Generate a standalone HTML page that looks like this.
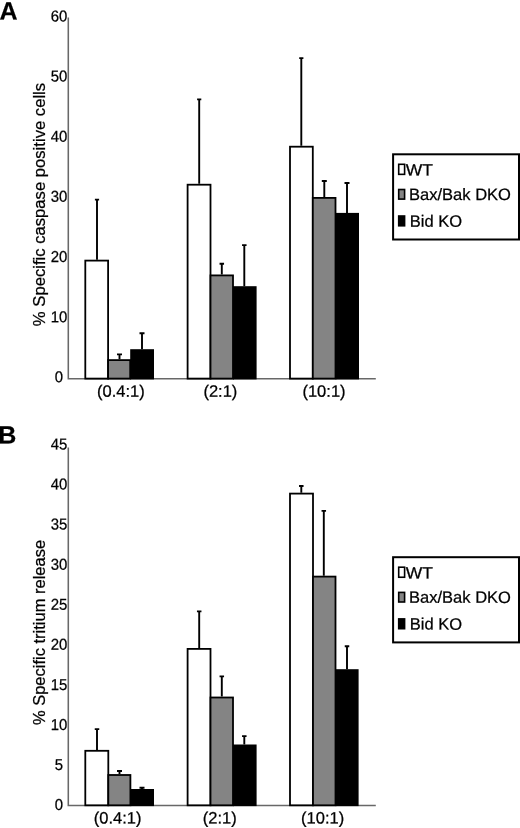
<!DOCTYPE html>
<html lang="en"><head><meta charset="utf-8"><title>Figure</title>
<style>html,body{margin:0;padding:0;background:#fff;overflow:hidden}svg{display:block;filter:grayscale(1)}text{font-family:"Liberation Sans", Arial, Helvetica, sans-serif;fill:#000;stroke:#000;stroke-width:0.25px}</style>
</head><body>
<svg width="520" height="828" viewBox="0 0 520 828">
<rect width="520" height="828" fill="#fff"/>
<text transform="translate(-0.5 19.4) rotate(0.05)" font-size="25" font-weight="bold" stroke="#000" stroke-width="0.5">A</text>
<path d="M68.3 17.5 V378.8 H375.8" fill="none" stroke="#686868" stroke-width="1.55"/>
<text transform="translate(54.85 382.3) rotate(0.05)" font-size="15.8" textLength="8.3" lengthAdjust="spacingAndGlyphs">0</text>
<text transform="translate(50.7 322.15) rotate(0.05)" font-size="15.8" textLength="16.6" lengthAdjust="spacingAndGlyphs">10</text>
<text transform="translate(50.7 262) rotate(0.05)" font-size="15.8" textLength="16.6" lengthAdjust="spacingAndGlyphs">20</text>
<text transform="translate(50.7 201.85) rotate(0.05)" font-size="15.8" textLength="16.6" lengthAdjust="spacingAndGlyphs">30</text>
<text transform="translate(50.7 141.7) rotate(0.05)" font-size="15.8" textLength="16.6" lengthAdjust="spacingAndGlyphs">40</text>
<text transform="translate(50.7 81.55) rotate(0.05)" font-size="15.8" textLength="16.6" lengthAdjust="spacingAndGlyphs">50</text>
<text transform="translate(50.7 21.4) rotate(0.05)" font-size="15.8" textLength="16.6" lengthAdjust="spacingAndGlyphs">60</text>
<text transform="translate(45.1 204.5) rotate(-90)" font-size="16.65" text-anchor="middle">% Specific caspase positive cells</text>
<path d="M97 259.7 V199 M94.9 199.6 H99.1" fill="none" stroke="#000" stroke-width="1.9"/>
<rect x="85.3" y="260.6" width="22.8" height="118" fill="#fff" stroke="#000" stroke-width="1.8"/>
<path d="M119.5 359.2 V353.8 M117 354.4 H122" fill="none" stroke="#000" stroke-width="1.9"/>
<rect x="108.1" y="360.1" width="22.1" height="18.5" fill="#848484" stroke="#000" stroke-width="1.8"/>
<path d="M142 349.2 V332.6 M139.5 333.2 H144.5" fill="none" stroke="#000" stroke-width="1.9"/>
<rect x="130.2" y="349.2" width="23.8" height="30.2" fill="#000"/>
<path d="M199.2 183.8 V98.8 M197.1 99.4 H201.3" fill="none" stroke="#000" stroke-width="1.9"/>
<rect x="187.6" y="184.7" width="22.9" height="193.9" fill="#fff" stroke="#000" stroke-width="1.8"/>
<path d="M221.8 274.5 V263.2 M219.55 263.8 H224.05" fill="none" stroke="#000" stroke-width="1.9"/>
<rect x="210.5" y="275.4" width="22.5" height="103.2" fill="#848484" stroke="#000" stroke-width="1.8"/>
<path d="M244.3 286.2 V244.5 M242.05 245.1 H246.55" fill="none" stroke="#000" stroke-width="1.9"/>
<rect x="233" y="286.2" width="23.6" height="93.2" fill="#000"/>
<path d="M301.3 145.8 V57.5 M299.2 58.1 H303.4" fill="none" stroke="#000" stroke-width="1.9"/>
<rect x="290" y="146.7" width="22.8" height="231.9" fill="#fff" stroke="#000" stroke-width="1.8"/>
<path d="M324.3 197 V180.4 M321.8 181 H326.8" fill="none" stroke="#000" stroke-width="1.9"/>
<rect x="312.8" y="197.9" width="22.7" height="180.7" fill="#848484" stroke="#000" stroke-width="1.8"/>
<path d="M347 212.9 V182.4 M344.5 183 H349.5" fill="none" stroke="#000" stroke-width="1.9"/>
<rect x="335.5" y="212.9" width="23.5" height="166.5" fill="#000"/>
<text transform="translate(120.8 396.8) rotate(0.05)" font-size="16.5" text-anchor="middle">(0.4:1)</text>
<text transform="translate(220.4 396.8) rotate(0.05)" font-size="16.5" text-anchor="middle">(2:1)</text>
<text transform="translate(324 396.8) rotate(0.05)" font-size="16.5" text-anchor="middle">(10:1)</text>
<rect x="393.1" y="154.3" width="125.9" height="85.2" fill="#fff" stroke="#000" stroke-width="2"/>
<rect x="398.7" y="164.3" width="5.9" height="10.05" fill="#fff" stroke="#000" stroke-width="1.6"/>
<text transform="translate(405.7 175.5) rotate(0.05)" font-size="16.5" textLength="27.2" lengthAdjust="spacingAndGlyphs">WT</text>
<rect x="398.7" y="189.5" width="5.9" height="9.6" fill="#848484" stroke="#000" stroke-width="1.6"/>
<text transform="translate(409.1 199.9) rotate(0.05)" font-size="16.5">Bax/Bak DKO</text>
<rect x="398.7" y="216" width="5.9" height="9.8" fill="#000" stroke="#000" stroke-width="1.6"/>
<text transform="translate(409.8 226.7) rotate(0.05)" font-size="16.5">Bid KO</text>
<text transform="translate(-1.8 443.5) rotate(0.05)" font-size="25" font-weight="bold" stroke="#000" stroke-width="0.5">B</text>
<path d="M68.3 447.5 V805.5 H375.8" fill="none" stroke="#686868" stroke-width="1.55"/>
<text transform="translate(54.85 810.1) rotate(0.05)" font-size="15.8" textLength="8.3" lengthAdjust="spacingAndGlyphs">0</text>
<text transform="translate(54.85 770.025) rotate(0.05)" font-size="15.8" textLength="8.3" lengthAdjust="spacingAndGlyphs">5</text>
<text transform="translate(50.7 729.95) rotate(0.05)" font-size="15.8" textLength="16.6" lengthAdjust="spacingAndGlyphs">10</text>
<text transform="translate(50.7 689.875) rotate(0.05)" font-size="15.8" textLength="16.6" lengthAdjust="spacingAndGlyphs">15</text>
<text transform="translate(50.7 649.8) rotate(0.05)" font-size="15.8" textLength="16.6" lengthAdjust="spacingAndGlyphs">20</text>
<text transform="translate(50.7 609.725) rotate(0.05)" font-size="15.8" textLength="16.6" lengthAdjust="spacingAndGlyphs">25</text>
<text transform="translate(50.7 569.65) rotate(0.05)" font-size="15.8" textLength="16.6" lengthAdjust="spacingAndGlyphs">30</text>
<text transform="translate(50.7 529.575) rotate(0.05)" font-size="15.8" textLength="16.6" lengthAdjust="spacingAndGlyphs">35</text>
<text transform="translate(50.7 489.5) rotate(0.05)" font-size="15.8" textLength="16.6" lengthAdjust="spacingAndGlyphs">40</text>
<text transform="translate(50.7 449.425) rotate(0.05)" font-size="15.8" textLength="16.6" lengthAdjust="spacingAndGlyphs">45</text>
<text transform="translate(45.1 632.5) rotate(-90)" font-size="16.5" text-anchor="middle">% Specific tritium release</text>
<path d="M97 749.9 V728.5 M94.75 729.1 H99.25" fill="none" stroke="#000" stroke-width="1.9"/>
<rect x="85.3" y="750.8" width="23" height="54.5" fill="#fff" stroke="#000" stroke-width="1.8"/>
<path d="M119.5 774.1 V770.4 M117 771 H122" fill="none" stroke="#000" stroke-width="1.9"/>
<rect x="108.3" y="775" width="22.1" height="30.3" fill="#848484" stroke="#000" stroke-width="1.8"/>
<path d="M142 789 V787.2 M139.5 787.8 H144.5" fill="none" stroke="#000" stroke-width="1.9"/>
<rect x="130.4" y="789" width="23.6" height="17.1" fill="#000"/>
<path d="M199.2 648 V610.8 M196.95 611.4 H201.45" fill="none" stroke="#000" stroke-width="1.9"/>
<rect x="187.6" y="648.9" width="22.9" height="156.4" fill="#fff" stroke="#000" stroke-width="1.8"/>
<path d="M221.8 696.6 V675.8 M219.55 676.4 H224.05" fill="none" stroke="#000" stroke-width="1.9"/>
<rect x="210.5" y="697.5" width="22.5" height="107.8" fill="#848484" stroke="#000" stroke-width="1.8"/>
<path d="M244.3 744.5 V735.5 M242.05 736.1 H246.55" fill="none" stroke="#000" stroke-width="1.9"/>
<rect x="233" y="744.5" width="23.6" height="61.6" fill="#000"/>
<path d="M301.3 492.7 V485.4 M299.05 486 H303.55" fill="none" stroke="#000" stroke-width="1.9"/>
<rect x="290" y="493.6" width="23" height="311.7" fill="#fff" stroke="#000" stroke-width="1.8"/>
<path d="M323.8 575.7 V510.3 M321.55 510.9 H326.05" fill="none" stroke="#000" stroke-width="1.9"/>
<rect x="313" y="576.6" width="22.5" height="228.7" fill="#848484" stroke="#000" stroke-width="1.8"/>
<path d="M347 669.2 V645.6 M344.75 646.2 H349.25" fill="none" stroke="#000" stroke-width="1.9"/>
<rect x="335.5" y="669.2" width="23.1" height="136.9" fill="#000"/>
<text transform="translate(117.7 823.6) rotate(0.05)" font-size="16.5" text-anchor="middle">(0.4:1)</text>
<text transform="translate(219.7 823.6) rotate(0.05)" font-size="16.5" text-anchor="middle">(2:1)</text>
<text transform="translate(322.6 823.6) rotate(0.05)" font-size="16.5" text-anchor="middle">(10:1)</text>
<rect x="393.1" y="557.2" width="125.9" height="85.2" fill="#fff" stroke="#000" stroke-width="2"/>
<rect x="398.7" y="567.2" width="5.9" height="10.05" fill="#fff" stroke="#000" stroke-width="1.6"/>
<text transform="translate(405.7 578.4) rotate(0.05)" font-size="16.5" textLength="27.2" lengthAdjust="spacingAndGlyphs">WT</text>
<rect x="398.7" y="592.4" width="5.9" height="9.6" fill="#848484" stroke="#000" stroke-width="1.6"/>
<text transform="translate(409.1 602.8) rotate(0.05)" font-size="16.5">Bax/Bak DKO</text>
<rect x="398.7" y="618.9" width="5.9" height="9.8" fill="#000" stroke="#000" stroke-width="1.6"/>
<text transform="translate(409.8 629.6) rotate(0.05)" font-size="16.5">Bid KO</text>
</svg></body></html>
